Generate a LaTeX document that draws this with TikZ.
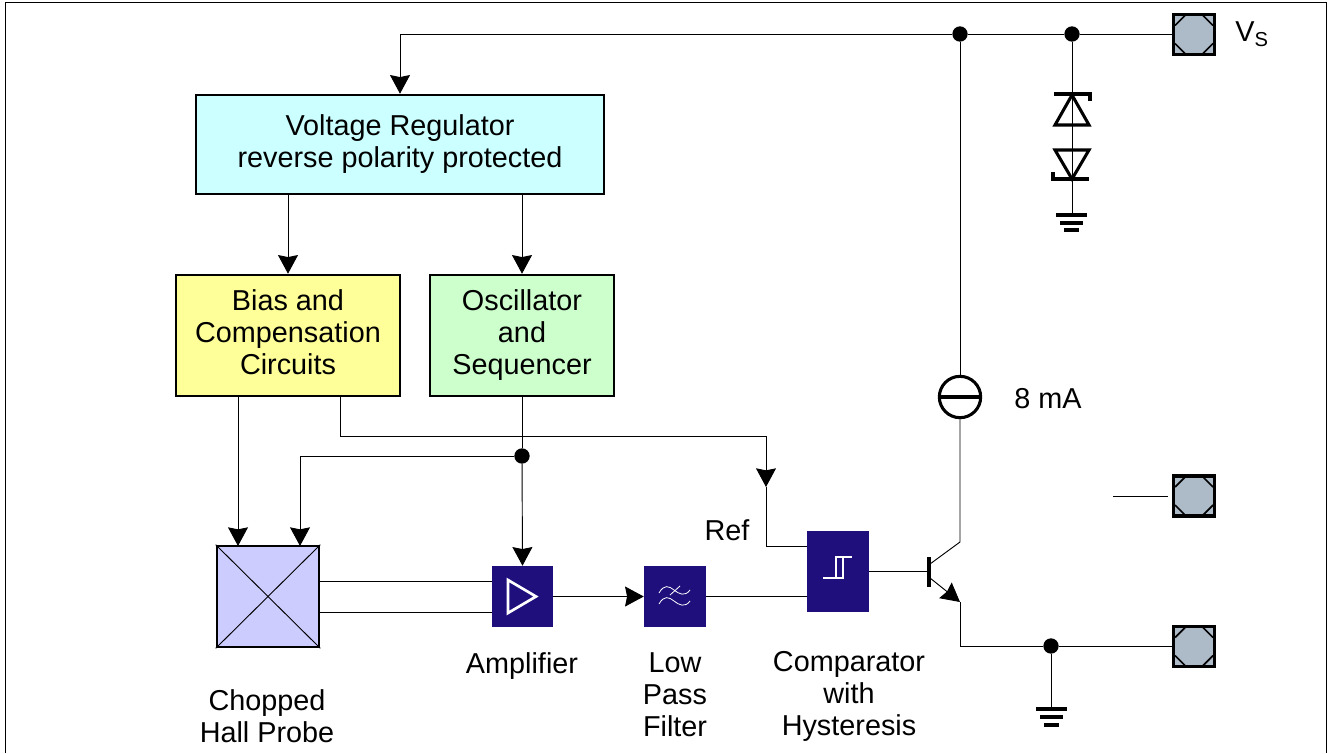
\documentclass[tikz,border=0pt]{standalone}
\usepackage{fontspec}
\setmainfont{Liberation Sans}
\usetikzlibrary{arrows.meta,positioning}
\definecolor{regcyan}{HTML}{CCFFFF}
\definecolor{biasyellow}{HTML}{FFFF99}
\definecolor{oscgreen}{HTML}{CCFFCC}
\definecolor{hallblue}{HTML}{CCCCFF}
\definecolor{iconnavy}{HTML}{1F0F7C}
\definecolor{padgrey}{HTML}{ADBBC8}
\newcommand{\lblfont}{\fontsize{21.6pt}{24pt}\selectfont}
\tikzset{
  block/.style  = {draw, rectangle, line width=1.9pt, align=center, inner sep=0pt, font=\lblfont},
  icon/.style   = {rectangle, fill=iconnavy, inner sep=0pt},
  pad/.style    = {draw, rectangle, fill=padgrey, line width=2.6pt, inner sep=0pt,
                   minimum width=30.5pt, minimum height=30pt},
  dot/.style    = {circle, fill=black, inner sep=0pt, minimum size=11.5pt},
  caption/.style = {align=center, inner sep=0pt, font=\lblfont},
  wire/.style   = {line width=0.7pt, draw=black},
  gnd/.style    = {line width=2.3pt},
  sym/.style    = {line width=2.3pt},
  iconline/.style = {draw=white, line width=2pt}
}

\begin{document}
\begin{tikzpicture}[x=0.75pt, y=-0.75pt,
  >={Stealth[length=14pt,width=15pt,inset=1.5pt]}]
\useasboundingbox (0,0) rectangle (1330,753);

% outer frame, open at the bottom
\draw[line width=1.3pt] (5.5,753) -- (5.5,2.5) -- (1326.5,2.5) -- (1326.5,753);

% power and analog blocks
\node[block, fill=regcyan, minimum width=306pt, minimum height=74.25pt] (reg) at (400,144.5)
  {Voltage Regulator\\reverse polarity protected};
\node[block, fill=biasyellow, minimum width=168pt, minimum height=90.75pt] (bias) at (288,335.5)
  {Bias and\\Compensation\\Circuits\vphantom{p}};
\node[block, fill=oscgreen, minimum width=138pt, minimum height=90.75pt] (osc) at (522,335.5)
  {Oscillator\\and\\Sequencer};
\node[block, fill=hallblue, minimum width=76.5pt, minimum height=75.75pt] (hall) at (268,596.5) {};

% signal path icons
\node[icon, minimum width=45.75pt, minimum height=45.75pt] (amp) at (522.5,596.5) {};
\node[icon, minimum width=46.5pt, minimum height=45.75pt] (filter) at (675,596.5) {};
\node[icon, minimum width=46.5pt, minimum height=60.75pt] (comp) at (838,571.5) {};

% bond pads
\node[pad] (padvs) at (1194,34.5) {};
\node[pad] (padout) at (1194,496) {};
\node[pad] (padgnd) at (1194,646.5) {};
\foreach \p in {padvs,padout,padgnd}
  \foreach \sx/\sy in {1/1,1/-1,-1/1,-1/-1}
    \draw[line width=1.3pt] ([shift={(\sx*19,\sy*9)}]\p.center) -- ([shift={(\sx*9,\sy*19)}]\p.center);

% junctions and current source
\node[dot] (dotvs) at (960,34) {};
\node[dot] (dotz) at (1072,34) {};
\node[dot] (dotosc) at (522,456) {};
\node[dot] (dotgnd) at (1051,646) {};
\node[circle, draw, sym, fill=white, inner sep=0pt, minimum size=31pt] (isrc) at (960,397) {};

% free ends and inputs
\coordinate (hallin1) at (238,546);
\coordinate (hallin2) at (300,546);
\coordinate (ampin1) at (492,581);
\coordinate (ampin2) at (492,612);
\coordinate (biasref) at (340,396);
\coordinate (refbus) at (766,436);
\coordinate (refknee) at (766,487);
\coordinate (compref) at (807,546);
\coordinate (base) at (929,571);
\coordinate (coll) at (960,542);
\coordinate (collb) at (930,564);
\coordinate (emitb) at (930,578);
\coordinate (emit) at (960,602);
\coordinate (gndz) at (1072,215);
\coordinate (gndm) at (1051,709);
\coordinate (outfree) at (1113,496);
\coordinate (outend) at (1168,496);

% supply rail
\draw[wire, ->] (padvs.west |- dotz) -- (dotz) -- (dotvs) -| (reg.north);
\draw[wire] (dotvs) -- (isrc.north);
\draw[wire] (dotz) -- (gndz);
\draw[wire, ->] (bias.north |- reg.south) -- (bias.north);
\draw[wire, ->] (osc.north |- reg.south) -- (osc.north);

% bias and clock
\draw[wire, ->] (bias.south -| hallin1) -- (hallin1);
\draw[wire] (osc.south) -- (dotosc);
\draw[wire, ->] (dotosc) -- (amp.north);
\draw[wire, ->] (dotosc) -| (hallin2);
\draw[wire, ->] (biasref) |- (refbus) -- (refknee);
\draw[wire] (refknee) |- (compref);

% signal path
\draw[wire] (ampin1 -| hall.east) -- (ampin1);
\draw[wire] (ampin2 -| hall.east) -- (ampin2);
\draw[wire, ->] (amp.east) -- (filter.west);
\draw[wire] (filter.east) -- (filter.east -| comp.west);
\draw[wire] (comp.east |- base) -- (base);

% output transistor
\draw[wire] (isrc.south) -- (coll) -- (collb);
\draw[wire, ->] (emitb) -- (emit);
\draw[wire] (emit) |- (dotgnd) -- (padgnd.west |- dotgnd);
\draw[wire] (dotgnd) -- (gndm);
\draw[wire] (outfree) -- (outend);
\draw[line width=2.3pt] (929,557) -- (929,587);
\draw[sym] (isrc.west) -- (isrc.east);

% hall cross
\draw[line width=0.7pt] (hall.north west) -- (hall.south east);
\draw[line width=0.7pt] (hall.north east) -- (hall.south west);

% zener pair
\draw[sym] (1054,94) -- (1090,94) -- (1090,101);
\draw[sym] (1072,95) -- (1055,125) -- (1089,125) -- cycle;
\draw[sym] (1055,150) -- (1089,150) -- (1072,179) -- cycle;
\draw[sym] (1053,172) -- (1053,179) -- (1089,179);

% ground symbols
\draw[gnd] (1056,215) -- (1087,215);
\draw[gnd] (1060,223) -- (1083,223);
\draw[gnd] (1064,230) -- (1079,230);
\draw[gnd] (1036,709) -- (1067,709);
\draw[gnd] (1040,717) -- (1063,717);
\draw[gnd] (1044,725) -- (1059,725);

% glyphs inside the icons
\draw[iconline, line join=miter] (508,580) -- (536,596.5) -- (508,613) -- cycle;
\draw[iconline, line width=0.6pt] (659,593) .. controls (664,584) and (669,586) .. (674,590)
  .. controls (679,594) and (685,597) .. (690,590);
\draw[iconline, line width=0.6pt] (659,604) .. controls (664,595) and (669,597) .. (674,601)
  .. controls (679,605) and (685,608) .. (690,601);
\draw[iconline, line width=0.6pt] (670,595) -- (680,586);
\draw[iconline] (823,578) -- (843,578) -- (843,557);
\draw[iconline] (836,578) -- (836,557) -- (852,557);

% labels
\begin{scope}[every node/.style={caption}]
\node (lblhall) at (267,716) {Chopped\\Hall Probe};
\node (lblamp) at (522,666) {Amplifier};
\node (lblfilter) at (675,695) {Low\\Pass\\Filter};
\node (lblcomp) at (849,696) {Comparator\\with\\Hysteresis};
\node (lblref) at (727,530) {Ref};
\node (lblisrc) at (1048,399) {8 mA};
\node (lblvs) at (1252,34) {V\textsubscript{S}};
\end{scope}
\end{tikzpicture}
\end{document}
